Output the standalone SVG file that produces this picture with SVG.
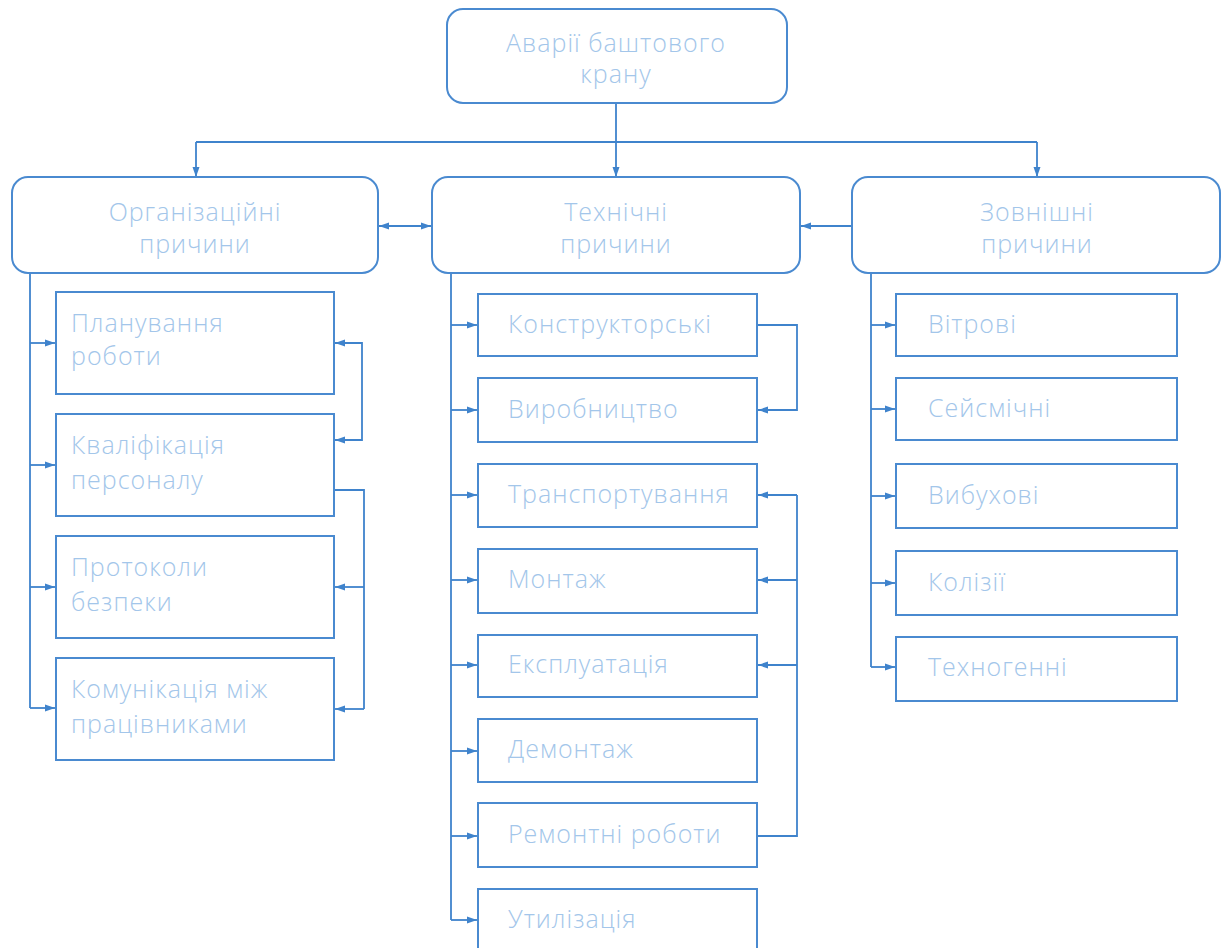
<svg xmlns="http://www.w3.org/2000/svg" width="1225" height="948" viewBox="0 0 1225 948">
<defs>
<marker id="ah" markerWidth="11" markerHeight="9" refX="10" refY="4.5" orient="auto-start-reverse" markerUnits="userSpaceOnUse">
<path d="M0,1 L10,4.5 L0,8 Z" fill="#3f83cc"/>
</marker>
</defs>
<style>
.rn{fill:#fff;stroke:#4a8ad0;stroke-width:2}
.bx{fill:#fff;stroke:#4a8ad0;stroke-width:2}
.t{font-family:"Open Sans","Noto Sans",sans-serif;font-weight:300;font-size:25px;letter-spacing:1px;fill:#a3c6ea}
.tc{text-anchor:middle}
.c{fill:none;stroke:#3f83cc;stroke-width:1.8}
.a{marker-end:url(#ah)}
.b{marker-start:url(#ah);marker-end:url(#ah)}
</style>
<rect width="1225" height="948" fill="#fff"/>
<g id="connectors">
<path class="c a" d="M616,103 V177"/>
<path class="c" d="M196,142 H1037"/>
<path class="c a" d="M196,142 V177"/>
<path class="c a" d="M1037,142 V177"/>
<path class="c b" d="M379,226 H431"/>
<path class="c a" d="M852,226 H801"/>
<path class="c" d="M30,273 V708"/>
<path class="c a" d="M30,343 H55"/>
<path class="c a" d="M30,465 H55"/>
<path class="c a" d="M30,587 H55"/>
<path class="c a" d="M30,708 H55"/>
<path class="c b" d="M335,343 H362 V440 H335"/>
<path class="c" d="M334,490 H364 V709"/>
<path class="c a" d="M364,587 H335"/>
<path class="c a" d="M364,709 H335"/>
<path class="c" d="M451,273 V920"/>
<path class="c a" d="M451,325 H477"/>
<path class="c a" d="M451,410 H477"/>
<path class="c a" d="M451,495 H477"/>
<path class="c a" d="M451,580 H477"/>
<path class="c a" d="M451,665 H477"/>
<path class="c a" d="M451,751 H477"/>
<path class="c a" d="M451,836 H477"/>
<path class="c a" d="M451,920 H477"/>
<path class="c a" d="M757,325 H797 V410 H758"/>
<path class="c" d="M757,836 H797 V495"/>
<path class="c a" d="M797,495 H758"/>
<path class="c a" d="M797,580 H758"/>
<path class="c a" d="M797,665 H758"/>
<path class="c" d="M871,273 V667"/>
<path class="c a" d="M871,325 H895"/>
<path class="c a" d="M871,409 H895"/>
<path class="c a" d="M871,496 H895"/>
<path class="c a" d="M871,583 H895"/>
<path class="c a" d="M871,667 H895"/>
</g>
<g id="root">
<rect class="rn" x="447" y="9" width="340" height="94" rx="16"/>
<text class="t tc" x="616" y="52">Аварії баштового</text>
<text class="t tc" x="616" y="83">крану</text>
</g>
<g id="org">
<rect class="rn" x="12" y="177" width="366" height="96" rx="16"/>
<text class="t tc" x="195" y="221">Організаційні</text>
<text class="t tc" x="195" y="253">причини</text>
</g>
<g id="tech">
<rect class="rn" x="432" y="177" width="368" height="96" rx="16"/>
<text class="t tc" x="616" y="221">Технічні</text>
<text class="t tc" x="616" y="253">причини</text>
</g>
<g id="ext">
<rect class="rn" x="852" y="177" width="368" height="96" rx="16"/>
<text class="t tc" x="1037" y="221">Зовнішні</text>
<text class="t tc" x="1037" y="253">причини</text>
</g>
<g id="org1"><rect class="bx" x="56" y="292" width="278" height="102"/><text class="t" x="71" y="332">Планування</text><text class="t" x="71" y="365">роботи</text></g>
<g id="org2"><rect class="bx" x="56" y="414" width="278" height="102"/><text class="t" x="71" y="454">Кваліфікація</text><text class="t" x="71" y="489">персоналу</text></g>
<g id="org3"><rect class="bx" x="56" y="536" width="278" height="102"/><text class="t" x="71" y="576">Протоколи</text><text class="t" x="71" y="611">безпеки</text></g>
<g id="org4"><rect class="bx" x="56" y="658" width="278" height="102"/><text class="t" x="71" y="698">Комунікація між</text><text class="t" x="71" y="733">працівниками</text></g>
<g id="tech1"><rect class="bx" x="478" y="294" width="279" height="62"/><text class="t" x="508" y="333">Конструкторські</text></g>
<g id="tech2"><rect class="bx" x="478" y="378" width="279" height="64"/><text class="t" x="508" y="418">Виробництво</text></g>
<g id="tech3"><rect class="bx" x="478" y="464" width="279" height="63"/><text class="t" x="508" y="503">Транспортування</text></g>
<g id="tech4"><rect class="bx" x="478" y="549" width="279" height="64"/><text class="t" x="508" y="588">Монтаж</text></g>
<g id="tech5"><rect class="bx" x="478" y="635" width="279" height="62"/><text class="t" x="508" y="673">Експлуатація</text></g>
<g id="tech6"><rect class="bx" x="478" y="719" width="279" height="63"/><text class="t" x="508" y="758">Демонтаж</text></g>
<g id="tech7"><rect class="bx" x="478" y="803" width="279" height="64"/><text class="t" x="508" y="843">Ремонтні роботи</text></g>
<g id="tech8"><rect class="bx" x="478" y="889" width="279" height="70"/><text class="t" x="508" y="928">Утилізація</text></g>
<g id="ext1"><rect class="bx" x="896" y="294" width="281" height="62"/><text class="t" x="928" y="333">Вітрові</text></g>
<g id="ext2"><rect class="bx" x="896" y="378" width="281" height="62"/><text class="t" x="928" y="417">Сейсмічні</text></g>
<g id="ext3"><rect class="bx" x="896" y="464" width="281" height="64"/><text class="t" x="928" y="504">Вибухові</text></g>
<g id="ext4"><rect class="bx" x="896" y="551" width="281" height="64"/><text class="t" x="928" y="591">Колізії</text></g>
<g id="ext5"><rect class="bx" x="896" y="637" width="281" height="64"/><text class="t" x="928" y="676">Техногенні</text></g>
</svg>
